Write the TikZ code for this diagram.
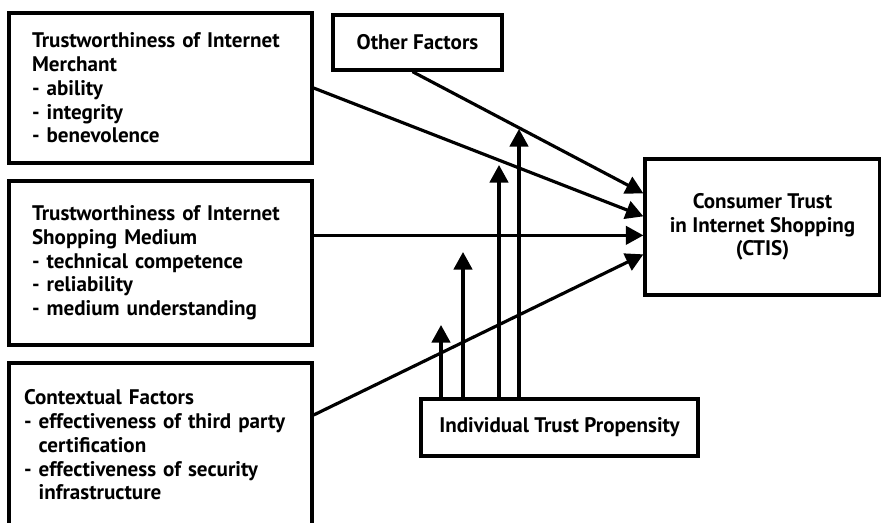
\documentclass[tikz,border=0pt]{standalone}
\usepackage{fontspec}
\setmainfont{PT Sans}
\usetikzlibrary{arrows.meta, calc}

\begin{document}
\begin{tikzpicture}[x=0.02cm, y=-0.02cm, >={Triangle[length=10pt, width=10.5pt]},
  factor/.style={rectangle, draw, line width=1.9pt, inner sep=0pt,
                 minimum width=6.06cm, text width=5.14cm, align=left,
                 font=\bfseries\fontsize{12}{13.5}\selectfont},
  plainbox/.style={rectangle, draw, line width=1.9pt, align=center,
                   font=\bfseries\fontsize{12}{13.5}\selectfont},
  arr/.style={->, line width=1.8pt},
]
\useasboundingbox (0,0) rectangle (881,522);

%% ── Left column: trust antecedents ─────────────────────────────────
\node[factor, minimum height=3.0cm] (merchant) at (160.5, 88)
  {Trustworthiness of Internet\\Merchant\\- ability\\- integrity\\- benevolence};
\node[factor, minimum height=3.28cm] (medium) at (160.5, 263)
  {Trustworthiness of Internet\\Shopping Medium\\- technical competence\\- reliability\\- medium understanding};
\node[factor, minimum height=3.28cm, text width=5.46cm] (context) at (160.5, 445)
  {Contextual Factors\\- effectiveness of third party\\\phantom{- }certification\\- effectiveness of security\\\phantom{- }infrastructure};

%% ── Other boxes ─────────────────────────────────────────────────────
\node[plainbox, minimum width=3.38cm, minimum height=1.1cm] (other) at (417.5, 42.5) {Other Factors};
\node[plainbox, minimum width=4.7cm, minimum height=2.72cm] (ctis) at (762.5, 227)
  {Consumer Trust\\in Internet Shopping\\(CTIS)};
\node[plainbox, minimum width=5.54cm, minimum height=1.14cm] (itp) at (559.5, 427.5)
  {Individual Trust Propensity};

%% ── Arrow ends on CTIS ──────────────────────────────────────────────
\coordinate (in1) at ($(ctis.north west)+(0,36)$);
\coordinate (in2) at ($(ctis.north west)+(0,59)$);
\coordinate (in3) at ($(ctis.north west)+(0,78)$);
\coordinate (in4) at ($(ctis.north west)+(0,97)$);

\draw[arr] ($(other.south)+(-5,0)$) -- (in1);
\draw[arr] (merchant.east) -- (in2);
\draw[arr] (medium.east |- in3) -- (in3);
\draw[arr] ($(context.east)+(0,-30)$) -- (in4);

%% ── Moderating arrows from propensity ───────────────────────────────
\coordinate (up1) at (441, 325);
\coordinate (up2) at (463, 252);
\coordinate (up3) at (499, 165);
\coordinate (up4) at (519, 129);

\foreach \c in {up1, up2, up3, up4}
  \draw[arr] (itp.north -| \c) -- (\c);

\end{tikzpicture}
\end{document}
